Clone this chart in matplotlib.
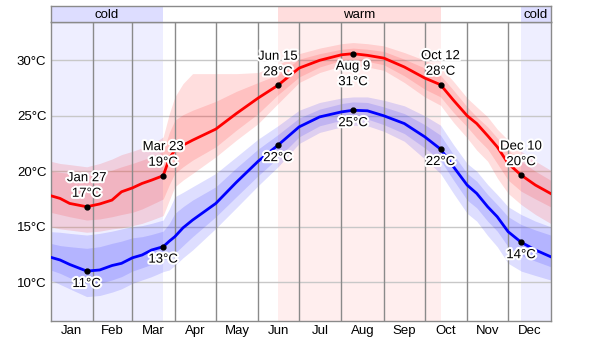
import numpy as np
import matplotlib.pyplot as plt
import matplotlib.patheffects as pe

plt.rcParams['font.family'] = ['Liberation Sans', 'DejaVu Sans']

# day of year (leap year, 0 = Jan 1) and temperatures in °C
days = [0, 7, 14, 26.5, 36, 45, 52, 60, 67, 74, 82.5, 87, 91, 97, 104, 121, 136, 152, 166.5,
        182, 197, 213, 221.5, 232, 244, 259, 274, 285.5, 295, 305, 312, 320, 327, 335, 344.5, 355, 366]

high_med = [17.8, 17.55, 17.1, 16.8, 17.05, 17.4, 18.15, 18.5, 18.9, 19.2, 19.6, 21.15, 21.9, 22.35, 22.8,
            23.8, 25.2, 26.6, 27.75, 29.3, 30.0, 30.5, 30.6, 30.45, 30.2, 29.4, 28.4, 27.8, 26.4, 25.0,
            24.3, 23.2, 22.2, 20.7, 19.65, 18.75, 18.0]
high_p25 = [16.3, 16.1, 15.9, 15.6, 15.7, 15.9, 16.1, 16.3, 16.6, 17.0, 17.5, 18.8, 19.8, 20.4, 21.0,
            22.2, 23.7, 25.2, 26.9, 28.5, 29.4, 30.0, 30.1, 29.9, 29.6, 28.6, 27.4, 26.7, 25.3, 24.0,
            23.0, 22.0, 20.7, 19.2, 18.2, 17.5, 16.8]
high_p75 = [20.0, 19.9, 19.8, 19.6, 19.8, 20.1, 20.4, 20.7, 21.0, 21.3, 21.8, 23.5, 24.6, 25.1, 25.5,
            26.3, 27.2, 28.0, 28.7, 30.1, 30.6, 31.0, 31.1, 31.0, 30.8, 30.1, 29.3, 28.65, 27.3, 25.8,
            24.9, 24.0, 23.0, 21.9, 20.9, 20.0, 19.2]
high_p10 = [15.0, 14.8, 14.7, 14.5, 14.6, 14.8, 14.9, 15.1, 15.3, 15.6, 16.0, 17.4, 18.6, 19.2, 19.8,
            21.3, 22.8, 24.3, 26.1, 28.0, 28.9, 29.5, 29.6, 29.4, 29.1, 28.0, 26.7, 25.95, 24.4, 23.0,
            21.9, 20.9, 19.4, 18.0, 17.0, 16.1, 15.3]
high_p90 = [20.9, 20.7, 20.6, 20.4, 20.7, 21.1, 21.5, 21.8, 22.1, 22.4, 23.1, 25.2, 26.7, 27.9, 28.8,
            28.8, 28.8, 28.9, 29.6, 30.6, 31.1, 31.5, 31.6, 31.5, 31.3, 30.7, 30.0, 29.4, 28.1, 26.6,
            25.8, 24.9, 23.8, 22.8, 21.8, 20.9, 20.1]

low_med = [12.25, 12.0, 11.6, 11.0, 11.1, 11.5, 11.7, 12.2, 12.45, 12.9, 13.2, 13.7, 14.1, 14.9, 15.6,
           17.1, 19.0, 20.9, 22.35, 24.0, 24.9, 25.35, 25.5, 25.45, 25.0, 24.3, 23.1, 22.0, 20.4, 18.75,
           18.0, 16.8, 15.9, 14.55, 13.6, 12.9, 12.3]
low_p25 = [11.1, 10.8, 10.4, 9.9, 9.9, 10.2, 10.5, 11.0, 11.3, 11.6, 12.0, 12.2, 12.6, 13.3, 14.1,
           15.9, 17.7, 19.6, 21.2, 23.1, 24.1, 24.6, 24.75, 24.7, 24.2, 23.4, 22.1, 21.0, 19.2, 17.4,
           16.7, 15.5, 14.6, 13.2, 12.4, 11.9, 11.4]
low_p75 = [13.5, 13.3, 13.2, 13.05, 13.2, 13.5, 13.7, 14.0, 14.1, 14.3, 14.6, 15.3, 16.2, 16.8, 17.4,
           18.6, 20.3, 22.0, 23.3, 24.8, 25.6, 26.1, 26.25, 26.2, 25.8, 25.2, 24.2, 23.25, 21.5, 19.8,
           19.1, 17.9, 17.0, 15.9, 15.2, 14.7, 14.25]
low_p10 = [10.2, 9.8, 9.4, 8.7, 8.8, 9.1, 9.4, 9.9, 10.2, 10.5, 10.95, 11.1, 11.5, 12.2, 12.9,
           14.85, 16.7, 18.7, 20.4, 22.5, 23.5, 24.0, 24.15, 24.1, 23.6, 22.7, 21.1, 19.8, 18.0, 16.2,
           15.5, 14.2, 13.2, 11.7, 11.0, 10.6, 10.2]
low_p90 = [14.55, 14.5, 14.4, 14.25, 14.4, 14.6, 14.8, 15.0, 15.1, 15.3, 15.6, 16.6, 17.7, 18.1, 18.6,
           19.8, 21.3, 22.9, 24.1, 25.5, 26.2, 26.6, 26.7, 26.7, 26.4, 25.9, 25.0, 24.15, 22.4, 20.7,
           20.0, 18.8, 17.9, 16.8, 16.1, 15.5, 15.0]

months = ['Jan', 'Feb', 'Mar', 'Apr', 'May', 'Jun', 'Jul', 'Aug', 'Sep', 'Oct', 'Nov', 'Dec']
month_len = [31, 29, 31, 30, 31, 30, 31, 31, 30, 31, 30, 31]

cold_ranges = [(0, 82.5), (344.5, 366)]
warm_ranges = [(166.5, 285.5)]

ann_days = [26.5, 82.5, 166.5, 221.5, 285.5, 344.5]
high_labels = ['Jan 27\n17°C', 'Mar 23\n19°C', 'Jun 15\n28°C', 'Aug 9\n31°C', 'Oct 12\n28°C', 'Dec 10\n20°C']
low_labels = ['11°C', '13°C', '22°C', '25°C', '22°C', '14°C']

W, H = 600, 344
fig = plt.figure(figsize=(W / 100, H / 100), dpi=100)
left, right, top, bottom, head = 50.5, 550.5, 21.5, 321, 6
ax = fig.add_axes([left / W, (H - bottom) / H, (right - left) / W, (bottom - top) / H])
hx = fig.add_axes([left / W, (H - top) / H, (right - left) / W, (top - head) / H], sharex=ax)

frame = '#8a8a8a'
for a in (ax, hx):
    for s in a.spines.values():
        s.set_color(frame)
        s.set_linewidth(1)

# season shading
for a0, a1 in cold_ranges:
    ax.axvspan(a0, a1, color='#eeeeff', lw=0, zorder=0)
    hx.axvspan(a0, a1, color='#ddddff', lw=0)
    hx.text((a0 + a1) / 2, 0.45, 'cold', ha='center', va='center', fontsize=9.5)
for a0, a1 in warm_ranges:
    ax.axvspan(a0, a1, color='#ffeeee', lw=0, zorder=0)
    hx.axvspan(a0, a1, color='#ffdddd', lw=0)
    hx.text((a0 + a1) / 2, 0.45, 'warm', ha='center', va='center', fontsize=9.5)
hx.set_ylim(0, 1)
hx.set_yticks([])
hx.tick_params(bottom=False, labelbottom=False)

# grid
starts = np.concatenate([[0], np.cumsum(month_len)])
for y in [10, 15, 20, 25, 30]:
    ax.axhline(y, color='#c8c8c8', lw=1, zorder=0.5)
for d in starts[1:-1]:
    ax.axvline(d, color=frame, lw=1, zorder=2)

# bands and lines
ax.fill_between(days, high_p10, high_p90, color='#ff0000', alpha=0.13, lw=0, zorder=1)
ax.fill_between(days, high_p25, high_p75, color='#ff0000', alpha=0.13, lw=0, zorder=1)
ax.fill_between(days, low_p10, low_p90, color='#0000ff', alpha=0.13, lw=0, zorder=1)
ax.fill_between(days, low_p25, low_p75, color='#0000ff', alpha=0.13, lw=0, zorder=1)
ax.plot(days, high_med, color='#ff0000', lw=2, zorder=3)
ax.plot(days, low_med, color='#0000ff', lw=2, zorder=3)

halo = [pe.withStroke(linewidth=3, foreground='white')]
for d, hl, ll in zip(ann_days, high_labels, low_labels):
    hv = np.interp(d, days, high_med)
    lv = np.interp(d, days, low_med)
    ax.plot([d, d], [hv, lv], 'o', color='black', ms=3.5, zorder=4, ls='none')
    below = hl.startswith('Aug')
    ax.annotate(hl, (d, hv), xytext=(0, -5 if below else 5), textcoords='offset points',
                ha='center', va='top' if below else 'bottom', fontsize=9.5,
                linespacing=1.4, path_effects=halo, zorder=5)
    ax.annotate(ll, (d, lv), xytext=(0, -5), textcoords='offset points',
                ha='center', va='top', fontsize=9.5, path_effects=halo, zorder=5)

ax.set_xlim(0, 366)
ax.set_ylim(6.5, 33.5)
ax.set_yticks([10, 15, 20, 25, 30])
ax.set_yticklabels([f'{v}°C' for v in [10, 15, 20, 25, 30]])
ax.set_xticks(starts[:-1] + np.array(month_len) / 2)
ax.set_xticklabels(months)
ax.tick_params(length=0, labelsize=9.5, pad=3)

fig.savefig('out.png', dpi=100)
